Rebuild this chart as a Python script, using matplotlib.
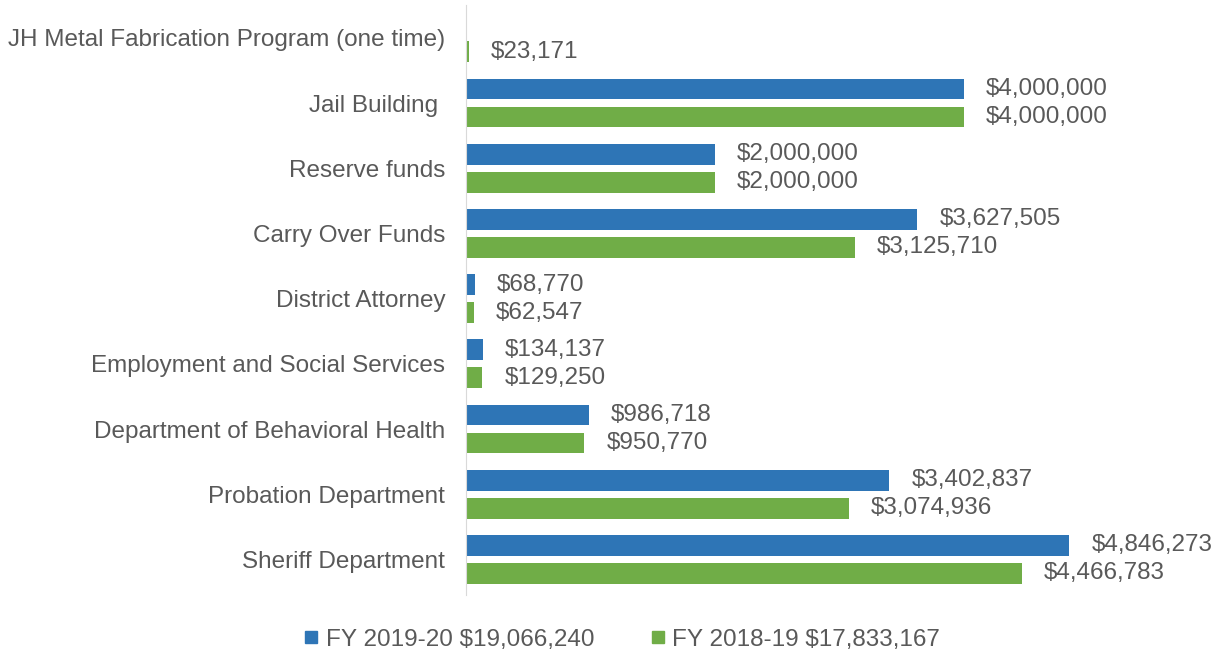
import matplotlib
matplotlib.use("Agg")
import numpy as np
from matplotlib import pyplot as plt
from matplotlib.lines import Line2D

plt.rcParams['font.family'] = ['Liberation Sans', 'DejaVu Sans']

# categories from bottom to top
categories = ["Sheriff Department", "Probation Department", "Department of Behavioral Health",
              "Employment and Social Services", "District Attorney", "Carry Over Funds",
              "Reserve funds", "Jail Building ", "JH Metal Fabrication Program (one time)"]
fy2019 = [4846273, 3402837, 986718, 134137, 68770, 3627505, 2000000, 4000000, None]
fy2018 = [4466783, 3074936, 950770, 129250, 62547, 3125710, 2000000, 4000000, 23171]
legend_labels = ["FY 2019-20 $19,066,240", "FY 2018-19 $17,833,167"]

blue = '#2E75B6'
green = '#70AD47'
txt = '#595959'
fs = 17.5

fig = plt.figure(figsize=(12.2, 6.57), dpi=100)
ax = fig.add_axes([0.382, 0.094, 0.612, 0.898])

y = np.arange(len(categories))
off = 0.215
h = 0.32

for i, v in enumerate(fy2019):
    if v is None:
        continue
    ax.barh(y[i] + off, v, height=h, color=blue)
    ax.annotate(f"${v:,}", (v, y[i] + off), xytext=(16, 0), textcoords='offset points',
                va='center', ha='left', fontsize=fs, color=txt)
for i, v in enumerate(fy2018):
    ax.barh(y[i] - off, v, height=h, color=green)
    ax.annotate(f"${v:,}", (v, y[i] - off), xytext=(16, 0), textcoords='offset points',
                va='center', ha='left', fontsize=fs, color=txt)

ax.set_xlim(0, 6e6)
ax.set_ylim(-0.55, 8.5)
ax.set_yticks(y)
ax.set_yticklabels(categories, fontsize=fs, color=txt)
ax.tick_params(axis='y', length=0, pad=15)
ax.set_xticks([])
for s in ['top', 'right', 'bottom']:
    ax.spines[s].set_visible(False)
ax.spines['left'].set_color('#D9D9D9')

handles = [Line2D([], [], marker='s', linestyle='', color=blue, markersize=9),
           Line2D([], [], marker='s', linestyle='', color=green, markersize=9)]
leg = fig.legend(handles, legend_labels, loc='center', bbox_to_anchor=(0.509, 0.026), ncol=2,
                 frameon=False, fontsize=fs, handletextpad=0.2, columnspacing=2.2,
                 handlelength=0.8)
for t in leg.get_texts():
    t.set_color(txt)

plt.savefig('out.png', dpi=100)
